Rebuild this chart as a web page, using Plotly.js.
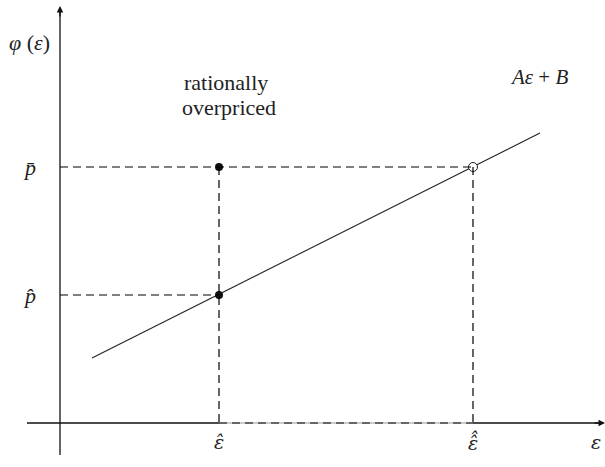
<!DOCTYPE html>
<html>
<head>
<meta charset="utf-8">
<script src="https://cdn.plot.ly/plotly-3.0.1.min.js"></script>
<style>html,body{margin:0;padding:0;background:#fff;}#chart{width:605px;height:467px;}</style>
</head>
<body>
<div id="chart"></div>
<script>
// Line A*eps + B, sampled at its two drawn ends
const lineEps = [32, 480];
const lineVal = [65, 290];
// marked points
const epsHat = 159, epsHatHat = 413;
const pHat = 128, pBar = 256;
const filledX = [epsHat, epsHat];
const filledY = [pBar, pHat];
const openX = [epsHatHat];
const openY = [pBar];
// axis extents
const xAxisSpan = [-33, 543];
const yAxisSpan = [-32, 415];
const xTickPos = [epsHat, epsHatHat, 536];
const xTickLabels = ["ε\u0302", "ε\u0302\u0302", "ε"];
const yTickLabels = ["p\u0304", "p\u0302"];

const dash = "8px,5px";
const dashed = (x0, y0, x1, y1) => ({type:'line', xref:'x', yref:'y', x0, y0, x1, y1,
  line:{color:'#000', width:1.2, dash:dash}, layer:'above'});
const solid = (x0, y0, x1, y1, c) => ({type:'line', xref:'x', yref:'y', x0, y0, x1, y1,
  line:{color:c||'#111', width:1.3}, layer:'below'});

const traces = [
  {x: lineEps, y: lineVal, mode:'lines', line:{color:'#222', width:1.1}, hoverinfo:'skip'},
  {x: filledX, y: filledY, mode:'markers', marker:{color:'#111', size:8}, hoverinfo:'skip'},
  {x: openX, y: openY, mode:'markers', marker:{color:'#fff', size:9, line:{color:'#222', width:1}}, hoverinfo:'skip'}
];

const shapes = [
  solid(xAxisSpan[0], 0, epsHat, 0),
  solid(epsHat, 0, epsHatHat, 0, '#bbb'),
  solid(epsHatHat, 0, xAxisSpan[1], 0),
  solid(0, yAxisSpan[0], 0, yAxisSpan[1]),
  dashed(0, pBar, epsHatHat, pBar),
  dashed(0, pHat, epsHat, pHat),
  dashed(epsHat, pBar, epsHat, 0),
  dashed(epsHatHat, pBar, epsHatHat, 0),
  dashed(epsHat, 0, epsHatHat, 0)
];

const serif = "Liberation Serif";
const ann = (x, y, text, size, fam) => ({x, y, xref:'x', yref:'y', text, showarrow:false,
  font:{family:fam||serif, size:size, color:'#222'}});

const annotations = [
  {x: xAxisSpan[1]+2, y: 0, ax: xAxisSpan[1]-10, ay: 0, xref:'x', yref:'y', axref:'x', ayref:'y',
   showarrow:true, arrowhead:2, arrowsize:1, arrowwidth:1.3, arrowcolor:'#111', text:''},
  {x: 0, y: yAxisSpan[1]+2, ax: 0, ay: yAxisSpan[1]-10, xref:'x', yref:'y', axref:'x', ayref:'y',
   showarrow:true, arrowhead:2, arrowsize:1, arrowwidth:1.3, arrowcolor:'#111', text:''},
  ann(-31, 381, "<i>φ</i> (<i>ε</i>)", 22),
  ann(166, 341, "rationally", 22),
  ann(169, 316, "overpriced", 22),
  ann(479, 346, "<i>Aε</i> + <i>B</i>", 21),
  ann(-31, pBar, "<i>" + yTickLabels[0] + "</i>", 22),
  ann(-31, pHat, "<i>" + yTickLabels[1] + "</i>", 22)
];
xTickPos.forEach((xp, i) => {
  annotations.push(ann(xp, -19, "<i>" + xTickLabels[i] + "</i>", 19, "DejaVu Serif"));
});

const layout = {
  width:605, height:467,
  margin:{l:0, r:0, t:0, b:0},
  paper_bgcolor:'#fff', plot_bgcolor:'#fff',
  showlegend:false,
  xaxis:{range:[-60, 545], visible:false, fixedrange:true},
  yaxis:{range:[-44, 423], visible:false, fixedrange:true},
  shapes, annotations
};

Plotly.newPlot('chart', traces, layout, {displayModeBar:false, staticPlot:true});
</script>
</body>
</html>
